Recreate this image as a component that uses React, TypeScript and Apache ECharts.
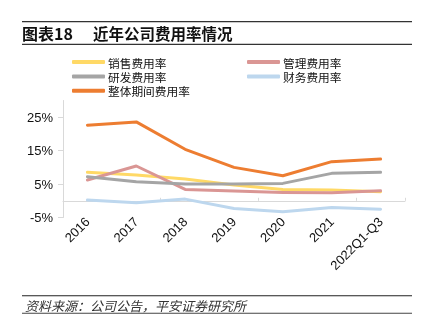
import React, { useEffect, useRef } from "react";
import * as echarts from "echarts";

const categories = ["2016", "2017", "2018", "2019", "2020", "2021", "2022Q1-Q3"];
const salesRate = [8.5, 7.7, 6.5, 4.7, 3.4, 3.2, 2.7];
const adminRate = [6.2, 10.4, 3.4, 2.9, 2.5, 2.4, 3.0];
const rdRate = [7.2, 5.7, 5.0, 5.0, 5.2, 8.2, 8.5];
const financeRate = [0.2, -0.6, 0.5, -2.3, -3.3, -2.0, -2.5];
const totalRate = [22.6, 23.6, 15.4, 10.0, 7.5, 11.7, 12.5];
const yTicks = [-5, 5, 15, 25];

const FONT = "'Liberation Sans', 'Noto Sans CJK SC', sans-serif";
const CJK = "'Noto Sans CJK SC', 'Liberation Sans', sans-serif";

export default function App() {
  const ref = useRef<HTMLDivElement>(null);
  useEffect(() => {
    if (!ref.current) return;
    const chart = echarts.init(ref.current, null, { renderer: "svg" });
    const mk = (name: string, data: number[], color: string) => ({
      name,
      type: "line",
      data,
      xAxisIndex: 0,
      symbol: "none",
      lineStyle: { width: 3, color, cap: "round", join: "round" },
      itemStyle: { color },
    });
    const legendText = { fontSize: 11.7, color: "#111", fontFamily: CJK, lineHeight: 12, padding: [0, 0, 0, -2] };
    chart.setOption({
      animation: false,
      textStyle: { fontFamily: FONT },
      grid: { left: 63, right: 25, top: 100.5, bottom: 114.5 },
      legend: [
        {
          left: 67,
          top: 51,
          orient: "vertical",
          itemGap: 2.4,
          itemWidth: 33,
          itemHeight: 4,
          icon: "roundRect",
          data: ["销售费用率", "研发费用率", "整体期间费用率"],
          textStyle: legendText,
        },
        {
          left: 242,
          top: 51,
          orient: "vertical",
          itemGap: 2.4,
          itemWidth: 33,
          itemHeight: 4,
          icon: "roundRect",
          data: ["管理费用率", "财务费用率"],
          textStyle: legendText,
        },
      ],
      xAxis: [
        {
          type: "category",
          data: categories,
          position: "bottom",
          axisLine: { show: false, onZero: false },
          axisTick: { show: false },
          axisLabel: { rotate: 45, margin: 2, fontSize: 13, color: "#111", fontFamily: FONT, interval: 0 },
        },
        {
          type: "category",
          data: categories,
          position: "bottom",
          axisLine: { show: true, onZero: true, lineStyle: { color: "#D9D9D9", width: 1 } },
          axisTick: { show: true, inside: true, length: 3, lineStyle: { color: "#D9D9D9" } },
          axisLabel: { show: false },
        },
      ],
      yAxis: {
        type: "value",
        min: -5,
        max: 30,
        interval: 10,
        splitLine: { show: false },
        axisLine: { show: true, lineStyle: { color: "#D9D9D9", width: 1 } },
        axisTick: { show: true, length: 5, customValues: yTicks, lineStyle: { color: "#D9D9D9" } },
        axisLabel: {
          customValues: yTicks,
          margin: 10,
          fontSize: 13,
          color: "#111",
          fontFamily: FONT,
          formatter: (v: number) => `${v}%`,
        },
      },
      series: [
        mk("销售费用率", salesRate, "#FFD966"),
        mk("管理费用率", adminRate, "#DA9694"),
        mk("研发费用率", rdRate, "#A5A5A5"),
        mk("财务费用率", financeRate, "#BDD7EE"),
        mk("整体期间费用率", totalRate, "#ED7D31"),
      ],
      graphic: [
        { type: "rect", shape: { x: 22, y: 21, width: 390, height: 1.3 }, style: { fill: "#333" } },
        { type: "rect", shape: { x: 22, y: 43.7, width: 390, height: 1.3 }, style: { fill: "#333" } },
        {
          type: "text",
          x: 22,
          y: 33,
          style: { text: "图表18", font: `bold 16px ${CJK}`, fill: "#111", verticalAlign: "middle" },
        },
        {
          type: "text",
          x: 93,
          y: 33,
          style: { text: "近年公司费用率情况", font: `bold 15.5px ${CJK}`, fill: "#111", verticalAlign: "middle" },
        },
        { type: "rect", shape: { x: 22, y: 295.2, width: 390, height: 1 }, style: { fill: "#222" } },
        { type: "rect", shape: { x: 22, y: 312.8, width: 390, height: 1 }, style: { fill: "#444" } },
        {
          type: "text",
          x: 25,
          y: 305,
          style: { text: "资料来源：公司公告，平安证券研究所", font: `italic 13px ${CJK}`, fill: "#333", verticalAlign: "middle" },
        },
      ],
    });
    return () => chart.dispose();
  }, []);
  return <div ref={ref} style={{ position: "fixed", left: 0, top: 0, width: 430, height: 332 }} />;
}
